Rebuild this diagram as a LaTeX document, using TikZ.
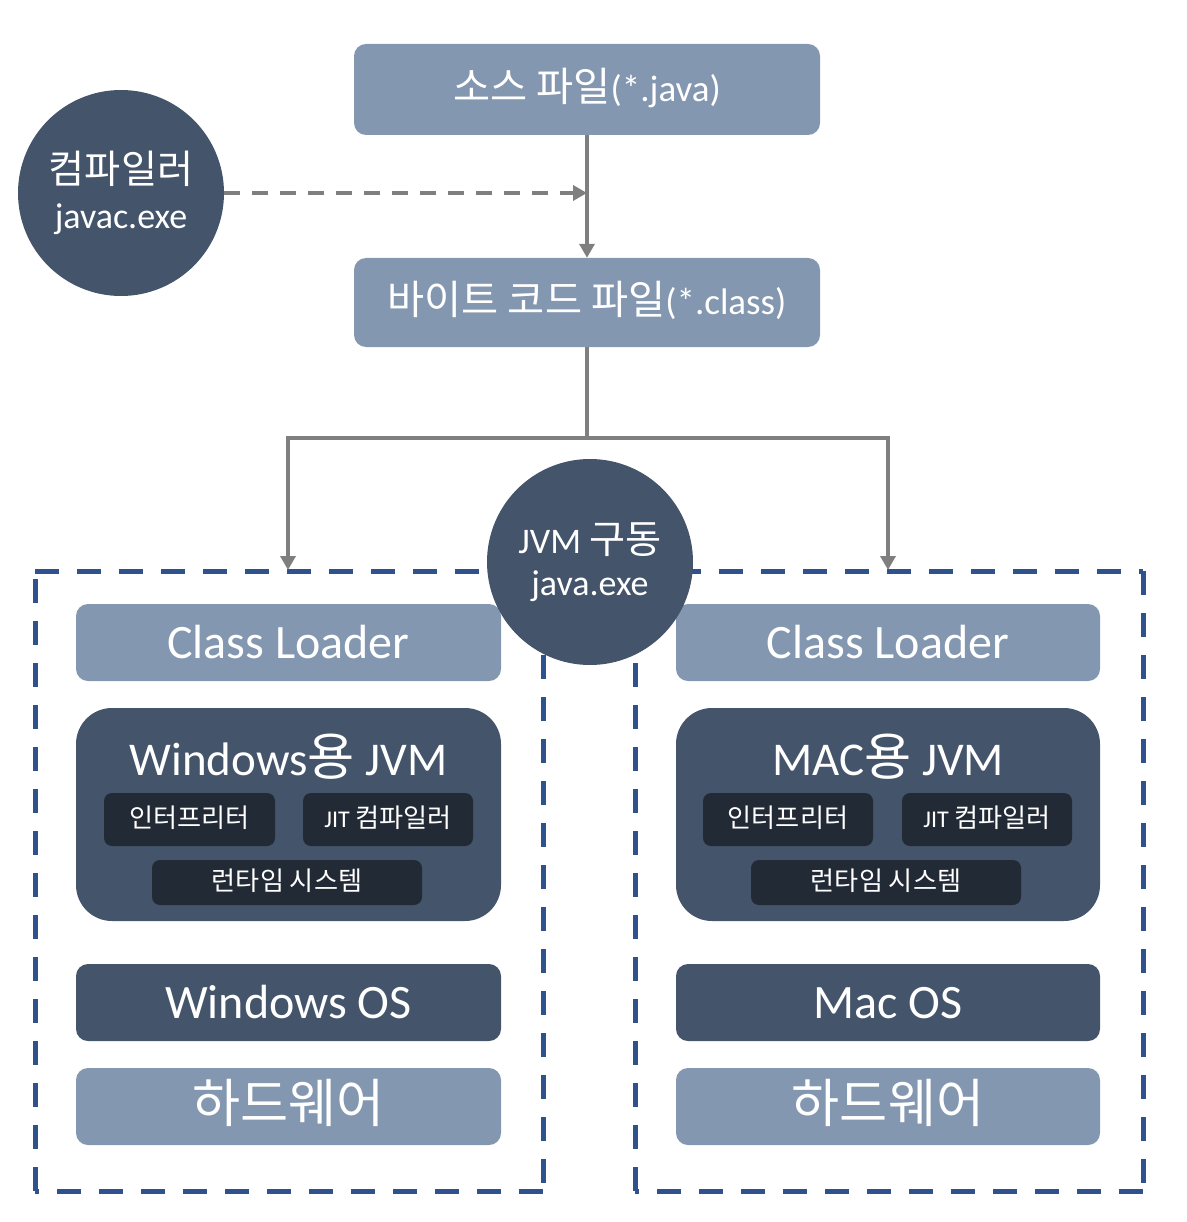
\documentclass[tikz,border=0pt]{standalone}
\usepackage{fontspec}
\setmainfont{Carlito}
\newfontfamily\kr[Scale=1.09]{Noto Sans CJK KR}
\usetikzlibrary{arrows.meta}
\newcommand\K[1]{{\kr #1}}
\definecolor{lightfill}{HTML}{8497B0}
\definecolor{darkfill}{HTML}{44546A}
\definecolor{deepfill}{HTML}{222A35}
\definecolor{dashblue}{HTML}{2F528F}
\definecolor{arrowgray}{HTML}{7F7F7F}
\begin{document}
\begin{tikzpicture}[x=1pt,y=-1pt,
  fs/.style={font=\fontsize{#1}{#1}\selectfont},
  tfs/.style={font=\fontsize{#1}{#1}\selectfont, text height={0.66*#1}, text depth=0pt},
  box/.style={rounded corners=12pt, inner sep=0pt, text=white, align=center},
  lbox/.style={box, fill=lightfill},
  dbox/.style={box, fill=darkfill},
  jvmbox/.style={box, fill=darkfill, rounded corners=36pt},
  sbox/.style={box, fill=deepfill, rounded corners=8pt, tfs=24},
  circ/.style={circle, fill=darkfill, minimum size=206pt, inner sep=0pt, text=white, align=center},
  arr/.style={draw=arrowgray, line width=3.5pt, -{Triangle[width=15pt,length=14pt]}},
  dline/.style={draw=arrowgray, line width=3.5pt},
  edge/.style={draw=dashblue, line width=5pt, dash pattern=on 24pt off 18pt},
]
\useasboundingbox (0,0) rectangle (1186,1222);

% dashed frames
\foreach \xa/\xb in {35/543, 635/1143}{
  \draw[edge] (\xa,571) -- (\xb,571);
  \draw[edge] (\xb,571) -- (\xb,1191);
  \draw[edge] (\xb,1191) -- (\xa,1191);
  \draw[edge] (\xa,1191) -- (\xa,571);
}

% top
\node[lbox, tfs=37, minimum width=466pt, minimum height=91pt] (src) at (587,89.5) {\K{소스 파일}(*.java)};
\node[lbox, tfs=37, minimum width=466pt, minimum height=89pt] (bc) at (587,302.5) {\K{바이트 코드 파일}(*.class)};
\node[circ, fs=36] (comp) at (121,193) {\K{컴파일러}\\[9pt]javac.exe};

% left stack
\node[lbox, tfs=48, minimum width=425pt, minimum height=77pt] (lcl) at (288.5,642.5) {Class Loader};
\node[jvmbox, minimum width=425pt, minimum height=213pt] (ljvm) at (288.5,814.5) {};
\node[tfs=47, text=white, inner sep=0pt] (ljt) at (288.5,760) {Windows\K{용} JVM};
\node[sbox, minimum width=171pt, minimum height=53pt] (lint) at (189.5,819.5) {\K{인터프리터}};
\node[sbox, minimum width=170pt, minimum height=53pt] (ljit) at (388,819.5) {JIT \K{컴파일러}};
\node[sbox, minimum width=270pt, minimum height=45pt] (lrt) at (287,882.5) {\K{런타임 시스템}};
\node[dbox, tfs=48, minimum width=425pt, minimum height=77pt] (los) at (288.5,1002.5) {Windows OS};
\node[lbox, tfs=48, minimum width=425pt, minimum height=77pt] (lhw) at (288.5,1106.5) {\K{하드웨어}};

% right stack
\node[lbox, tfs=48, minimum width=424pt, minimum height=77pt] (rcl) at (888,642.5) {Class Loader};
\node[jvmbox, minimum width=424pt, minimum height=213pt] (rjvm) at (888,814.5) {};
\node[tfs=47, text=white, inner sep=0pt] (rjt) at (888,760) {MAC\K{용} JVM};
\node[sbox, minimum width=170pt, minimum height=53pt] (rint) at (788,819.5) {\K{인터프리터}};
\node[sbox, minimum width=170pt, minimum height=53pt] (rjit) at (987,819.5) {JIT \K{컴파일러}};
\node[sbox, minimum width=270pt, minimum height=45pt] (rrt) at (886,882.5) {\K{런타임 시스템}};
\node[dbox, tfs=48, minimum width=424pt, minimum height=77pt] (ros) at (888,1002.5) {Mac OS};
\node[lbox, tfs=48, minimum width=424pt, minimum height=77pt] (rhw) at (888,1106.5) {\K{하드웨어}};

% connectors
\coordinate (join) at (587,193);
\coordinate (split) at (587,438);
\coordinate (ltop) at (288,570);
\coordinate (rtop) at (888,570);
\draw[arr, dash pattern=on 16pt off 12pt, line width=4pt] (comp.east |- join) -- (join);
\draw[arr] (src.south) -- (bc.north);
\draw[dline] (bc.south) -- (split);
\draw[arr] (split) -| (ltop);
\draw[arr] (split) -| (rtop);

% JVM launch circle on top
\node[circ, fs=36] (jvm) at (590,562) {JVM \K{구동}\\[6pt]java.exe};
\end{tikzpicture}
\end{document}
